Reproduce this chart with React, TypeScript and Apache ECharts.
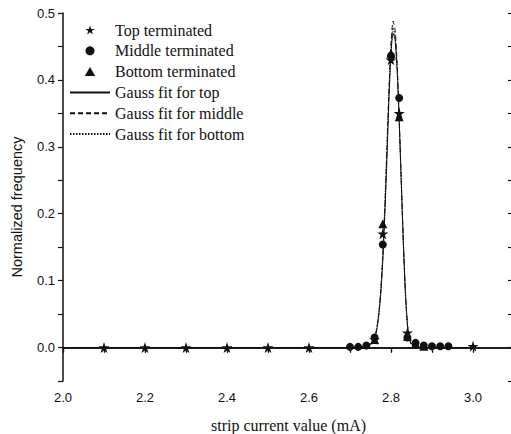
import React, { useEffect, useRef } from "react";
import * as echarts from "echarts";

const topX = [2.1, 2.2, 2.3, 2.4, 2.5, 2.6, 2.76, 2.78, 2.8, 2.82, 2.84, 3.0];
const topY = [0, 0, 0, 0, 0, 0, 0.012, 0.17, 0.43, 0.35, 0.022, 0.002];
const midX = [2.7, 2.72, 2.74, 2.76, 2.78, 2.8, 2.82, 2.84, 2.86, 2.88, 2.9, 2.92, 2.94];
const midY = [0.001, 0.001, 0.003, 0.015, 0.154, 0.436, 0.373, 0.015, 0.007, 0.003, 0.002, 0.002, 0.002];
const botX = [2.76, 2.78, 2.8, 2.82, 2.84, 2.86, 2.88];
const botY = [0.012, 0.185, 0.44, 0.345, 0.017, 0.006, 0.002];

const fitX = [2.0, 2.7, 2.74, 2.75, 2.76, 2.765, 2.77, 2.775, 2.78, 2.785, 2.79, 2.795, 2.8, 2.805, 2.81, 2.815, 2.82, 2.825, 2.83, 2.835, 2.84, 2.845, 2.85, 2.86, 2.88, 3.0];
const fitTop = [0, 0, 0.002, 0.005, 0.014, 0.026, 0.047, 0.08, 0.13, 0.2, 0.28, 0.37, 0.44, 0.47, 0.46, 0.415, 0.34, 0.25, 0.16, 0.085, 0.035, 0.013, 0.005, 0.001, 0, 0];
const fitMiddle = [0, 0, 0.002, 0.005, 0.015, 0.028, 0.05, 0.085, 0.138, 0.21, 0.295, 0.385, 0.455, 0.488, 0.475, 0.425, 0.345, 0.25, 0.16, 0.085, 0.035, 0.013, 0.005, 0.001, 0, 0];
const fitBottom = [0, 0, 0.002, 0.005, 0.015, 0.027, 0.05, 0.085, 0.14, 0.215, 0.3, 0.385, 0.45, 0.478, 0.465, 0.415, 0.335, 0.245, 0.155, 0.08, 0.033, 0.012, 0.005, 0.001, 0, 0];

const seriesNames = [
  "Top terminated",
  "Middle terminated",
  "Bottom terminated",
  "Gauss fit for top",
  "Gauss fit for middle",
  "Gauss fit for bottom",
];

const STAR =
  "path://M50 0 L61.17 34.63 L97.55 34.55 L68.07 55.87 L79.39 90.45 L50 69 L20.61 90.45 L31.93 55.87 L2.45 34.55 L38.83 34.63 Z";
const TRI = "path://M50 0 L100 87 L0 87 Z";

const pair = (xs: number[], ys: number[]) => xs.map((x, i) => [x, ys[i]]);

const INK = "#111111";
const SANS = "Liberation Sans";
const SERIF = "Liberation Serif";

export default function App() {
  const ref = useRef<HTMLDivElement>(null);
  useEffect(() => {
    if (!ref.current) return;
    const chart = echarts.init(ref.current, null, { renderer: "svg" });
    const axisLine = { show: true, lineStyle: { color: INK, width: 1.5 } };
    const lineSeries = (name: string, ys: number[], type: any) => ({
      name,
      type: "line",
      data: pair(fitX, ys),
      symbol: "none",
      smooth: 0.2,
      lineStyle: { color: INK, width: 1, type },
      itemStyle: { color: INK },
      z: 2,
    });
    chart.setOption({
      animation: false,
      backgroundColor: "#ffffff",
      grid: { left: 63, top: 13, bottom: 53, right: -3, containLabel: false, outerBoundsMode: "none" },
      legend: {
        orient: "vertical",
        left: 69,
        top: 22,
        padding: 0,
        itemWidth: 40,
        itemHeight: 9,
        itemGap: 4.8,
        textStyle: { fontFamily: SERIF, fontSize: 16, color: INK },
        data: [
          { name: seriesNames[0] },
          { name: seriesNames[1] },
          { name: seriesNames[2] },
          { name: seriesNames[3], itemStyle: { opacity: 0 } },
          { name: seriesNames[4], itemStyle: { opacity: 0 } },
          { name: seriesNames[5], itemStyle: { opacity: 0 } },
        ],
      },
      xAxis: [
        {
          type: "value",
          position: "bottom",
          min: 2.0,
          max: 3.1,
          interval: 0.1,
          axisLine,
          axisTick: { show: true, length: 5, lineStyle: { color: INK, width: 1.2 } },
          splitLine: { show: false },
          axisLabel: {
            fontFamily: SANS,
            fontSize: 13,
            color: INK,
            margin: 10,
            formatter: (v: number) => (Math.round(v * 10) % 2 === 0 && v < 3.05 ? v.toFixed(1) : ""),
          },
          name: "strip current value (mA)",
          nameLocation: "middle",
          nameGap: 36,
          nameTextStyle: { fontFamily: SERIF, fontSize: 16, color: INK },
        },
        {
          type: "value",
          position: "top",
          min: 2.0,
          max: 3.1,
          interval: 0.1,
          axisLine,
          axisTick: { show: true, inside: true, length: 5, lineStyle: { color: INK, width: 1.2 } },
          axisLabel: { show: false },
          splitLine: { show: false },
        },
      ],
      yAxis: [
        {
          type: "value",
          position: "left",
          min: -0.05,
          max: 0.5,
          interval: 0.05,
          axisLine,
          axisTick: { show: true, length: 5, lineStyle: { color: INK, width: 1.2 } },
          splitLine: { show: false },
          axisLabel: {
            fontFamily: SANS,
            fontSize: 13,
            color: INK,
            margin: 8,
            formatter: (v: number) => {
              const k = Math.round(v * 100);
              return k >= 0 && k % 10 === 0 ? v.toFixed(1) : "";
            },
          },
          name: "Normalized frequency",
          nameLocation: "middle",
          nameGap: 39,
          nameTextStyle: { fontFamily: SANS, fontSize: 14.5, color: INK, padding: [0, 20, 0, 0] },
        },
        {
          type: "value",
          position: "right",
          min: -0.05,
          max: 0.5,
          interval: 0.05,
          axisLine,
          axisTick: { show: true, inside: true, length: 6, lineStyle: { color: INK, width: 1.2 } },
          axisLabel: { show: false },
          splitLine: { show: false },
        },
      ],
      series: [
        {
          name: seriesNames[0],
          type: "scatter",
          data: pair(topX, topY),
          symbol: STAR,
          symbolSize: 11,
          itemStyle: { color: INK, opacity: 1 },
          z: 5,
        },
        {
          name: seriesNames[1],
          type: "scatter",
          data: pair(midX, midY),
          symbol: "circle",
          symbolSize: 8,
          itemStyle: { color: INK, opacity: 1 },
          z: 4,
        },
        {
          name: seriesNames[2],
          type: "scatter",
          data: pair(botX, botY),
          symbol: TRI,
          symbolSize: 9,
          itemStyle: { color: INK, opacity: 1 },
          z: 4,
        },
        lineSeries(seriesNames[3], fitTop, "solid"),
        lineSeries(seriesNames[4], fitMiddle, [5, 3]),
        lineSeries(seriesNames[5], fitBottom, [1.5, 1.5]),
      ],
    });
    return () => chart.dispose();
  }, []);
  return (
    <div
      ref={ref}
      style={{ position: "fixed", left: 0, top: 0, width: 511, height: 434, background: "#fff" }}
    />
  );
}
